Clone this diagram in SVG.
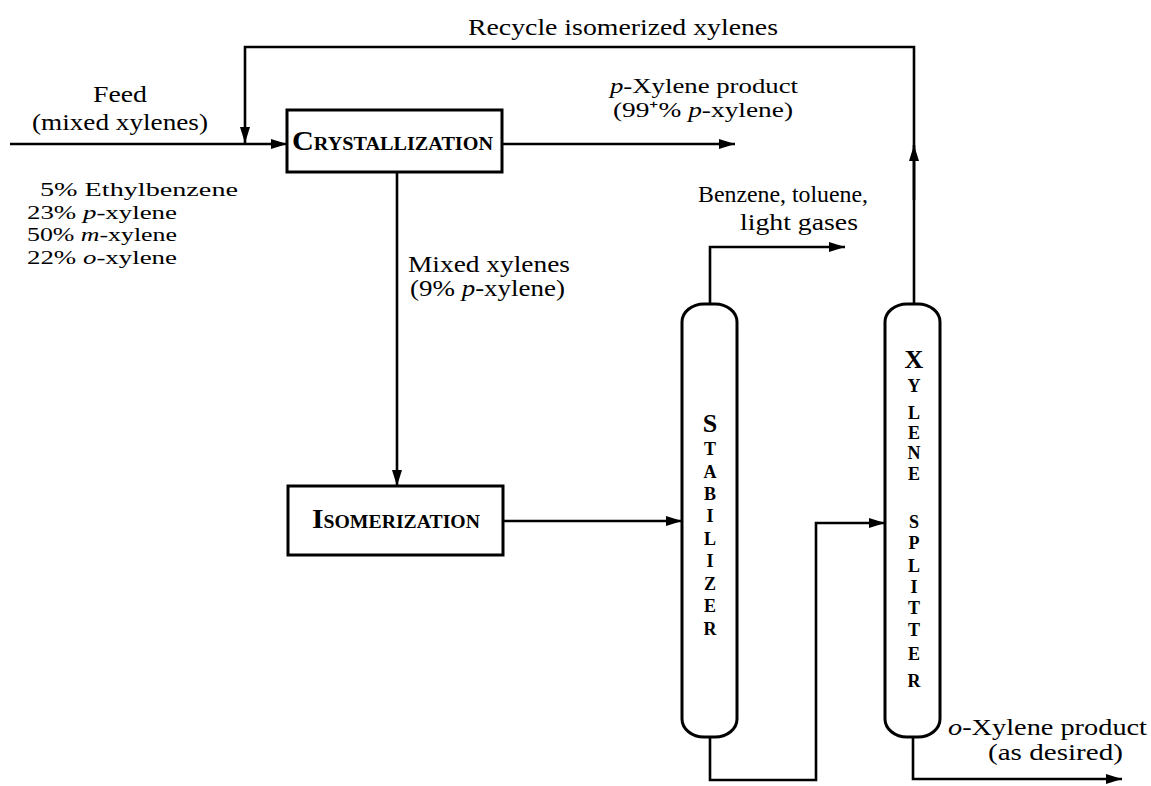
<svg xmlns="http://www.w3.org/2000/svg" width="1151" height="786" viewBox="0 0 1151 786">
<style>
  .ln { fill: none; stroke: #000; stroke-width: 2.6; }
  .box { fill: #fff; stroke: #000; stroke-width: 3; }
  .t { font-family: "Liberation Serif", "Times New Roman", serif; font-size: 23px; fill: #000; }
  .m { font-family: "Liberation Serif", "Times New Roman", serif; font-size: 21px; fill: #000; }
  .s { font-family: "Liberation Serif", "Times New Roman", serif; font-size: 19px; fill: #000; }
  .sc { font-family: "Liberation Serif", "Times New Roman", serif; font-weight: bold; fill: #000; }
  .big { font-size: 27px; }
  .small { font-size: 18px; }
  .col { font-family: "Liberation Serif", "Times New Roman", serif; font-weight: bold; fill: #000; text-anchor: middle; font-size: 18px; }
  .colbig { font-size: 26px; }
  .i { font-style: italic; }
</style>
<defs>
  <marker id="ah" viewBox="0 0 16 10" refX="16" refY="5" markerWidth="16" markerHeight="10" markerUnits="userSpaceOnUse" orient="auto">
    <path d="M0,0 L16,5 L0,10 Z" fill="#000"/>
  </marker>
</defs>

<g id="connectors">
  <!-- feed -->
  <line class="ln" x1="10" y1="144" x2="287" y2="144" marker-end="url(#ah)"/>
  <!-- recycle -->
  <polyline class="ln" points="914,304 914,47 245,47 245,143" marker-end="url(#ah)"/>
  <line class="ln" x1="914" y1="200" x2="914" y2="145" marker-end="url(#ah)"/>
  <!-- p-xylene product -->
  <line class="ln" x1="502" y1="144" x2="735" y2="144" marker-end="url(#ah)"/>
  <!-- crystallization to isomerization -->
  <line class="ln" x1="397" y1="172" x2="397" y2="486" marker-end="url(#ah)"/>
  <!-- isomerization to stabilizer -->
  <line class="ln" x1="503" y1="521" x2="682" y2="521" marker-end="url(#ah)"/>
  <!-- stabilizer overhead -->
  <polyline class="ln" points="710,304 710,247 845,247" marker-end="url(#ah)"/>
  <!-- stabilizer bottoms to xylene splitter -->
  <polyline class="ln" points="710,737 710,780 816,780 816,523 885,523" marker-end="url(#ah)"/>
  <!-- o-xylene product -->
  <polyline class="ln" points="913,737 913,779 1122,779" marker-end="url(#ah)"/>
</g>

<g id="crystallization">
  <rect class="box" x="287" y="110" width="215" height="62"/>
  <text class="sc" x="292" y="150" textLength="201" lengthAdjust="spacingAndGlyphs"><tspan class="big">C</tspan><tspan class="small">RYSTALLIZATION</tspan></text>
</g>

<g id="isomerization">
  <rect class="box" x="288" y="486" width="215" height="69"/>
  <text class="sc" x="312" y="528" textLength="168" lengthAdjust="spacingAndGlyphs"><tspan class="big">I</tspan><tspan class="small">SOMERIZATION</tspan></text>
</g>

<g id="stabilizer">
  <rect class="box" x="682" y="304" width="55" height="433" rx="22" ry="18"/>
  <text class="col colbig" x="710" y="432">S</text>
  <text class="col" x="710" y="455">T</text>
  <text class="col" x="710" y="478">A</text>
  <text class="col" x="710" y="500">B</text>
  <text class="col" x="710" y="522">I</text>
  <text class="col" x="710" y="545">L</text>
  <text class="col" x="710" y="567">I</text>
  <text class="col" x="710" y="590">Z</text>
  <text class="col" x="710" y="612">E</text>
  <text class="col" x="710" y="635">R</text>
</g>

<g id="xylene-splitter">
  <rect class="box" x="885" y="304" width="55" height="433" rx="22" ry="18"/>
  <text class="col colbig" x="914" y="368">X</text>
  <text class="col" x="914" y="392">Y</text>
  <text class="col" x="914" y="419">L</text>
  <text class="col" x="914" y="439">E</text>
  <text class="col" x="914" y="459">N</text>
  <text class="col" x="914" y="480">E</text>
  <text class="col" x="914" y="528">S</text>
  <text class="col" x="914" y="549">P</text>
  <text class="col" x="914" y="572">L</text>
  <text class="col" x="914" y="593">I</text>
  <text class="col" x="914" y="614">T</text>
  <text class="col" x="914" y="636">T</text>
  <text class="col" x="914" y="660">E</text>
  <text class="col" x="914" y="687">R</text>
</g>

<g id="labels">
  <text class="t" x="468" y="35" textLength="310" lengthAdjust="spacingAndGlyphs">Recycle isomerized xylenes</text>
  <text class="t" x="93" y="102" textLength="54" lengthAdjust="spacingAndGlyphs">Feed</text>
  <text class="t" x="32" y="130" textLength="176" lengthAdjust="spacingAndGlyphs">(mixed xylenes)</text>

  <text class="s" x="40" y="196" textLength="198" lengthAdjust="spacingAndGlyphs">5% Ethylbenzene</text>
  <text class="s" x="27" y="218.5" textLength="150" lengthAdjust="spacingAndGlyphs">23% <tspan class="i">p</tspan>-xylene</text>
  <text class="s" x="27" y="241" textLength="150" lengthAdjust="spacingAndGlyphs">50% <tspan class="i">m</tspan>-xylene</text>
  <text class="s" x="27" y="263.5" textLength="150" lengthAdjust="spacingAndGlyphs">22% <tspan class="i">o</tspan>-xylene</text>

  <text class="m" x="610" y="93" textLength="188" lengthAdjust="spacingAndGlyphs"><tspan class="i">p</tspan>-Xylene product</text>
  <text class="m" x="613" y="117" textLength="180" lengthAdjust="spacingAndGlyphs">(99⁺% <tspan class="i">p</tspan>-xylene)</text>

  <text class="t" x="408" y="272" textLength="162" lengthAdjust="spacingAndGlyphs">Mixed xylenes</text>
  <text class="t" x="410" y="296" textLength="155" lengthAdjust="spacingAndGlyphs">(9% <tspan class="i">p</tspan>-xylene)</text>

  <text class="t" x="698" y="202" textLength="170" lengthAdjust="spacingAndGlyphs">Benzene, toluene,</text>
  <text class="t" x="740" y="230" textLength="118" lengthAdjust="spacingAndGlyphs">light gases</text>

  <text class="t" x="948" y="735" textLength="199" lengthAdjust="spacingAndGlyphs"><tspan class="i">o</tspan>-Xylene product</text>
  <text class="t" x="988" y="760" textLength="135" lengthAdjust="spacingAndGlyphs">(as desired)</text>
</g>
</svg>
